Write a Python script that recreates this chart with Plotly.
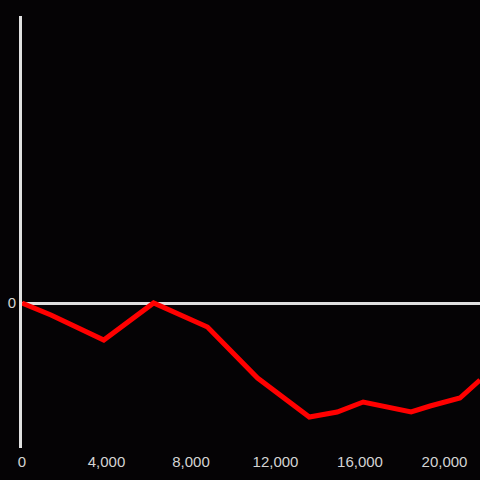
import plotly.graph_objects as go

x_vals = [0, 1370, 3870, 6230, 8780, 11150, 13600, 14920, 16150, 18420, 19320, 20730, 21680]
y_vals = [0, -12, -37, 0, -24, -75, -114, -109, -99, -109, -103, -95, -77]
x_ticks = [0, 4000, 8000, 12000, 16000, 20000]
x_tick_text = ["0", "4,000", "8,000", "12,000", "16,000", "20,000"]

fig = go.Figure()
fig.add_trace(go.Scatter(x=x_vals, y=y_vals, mode="lines",
                         line=dict(color="#ff0000", width=5), hoverinfo="skip"))

fig.update_layout(
    width=480, height=480,
    margin=dict(l=22, r=0, t=16, b=32),
    paper_bgcolor="#050305", plot_bgcolor="#050305",
    showlegend=False,
    font=dict(family="Liberation Sans, Arial, sans-serif", size=15, color="#d4d4d4"),
    xaxis=dict(range=[0, 21680], tickvals=x_ticks, ticktext=x_tick_text,
               showgrid=False, zeroline=False, showline=False, ticks="",
               ticklabelstandoff=3),
    yaxis=dict(range=[-145, 287], tickvals=[0], ticktext=["0"],
               showgrid=False, zeroline=True, zerolinecolor="#e0e0e0", zerolinewidth=3,
               showline=True, linecolor="#e0e0e0", linewidth=3, ticks="",
               ticklabelstandoff=0),
)

fig.write_html("out.html", config={"displayModeBar": False},
               post_script="document.body.style.margin='0';")
